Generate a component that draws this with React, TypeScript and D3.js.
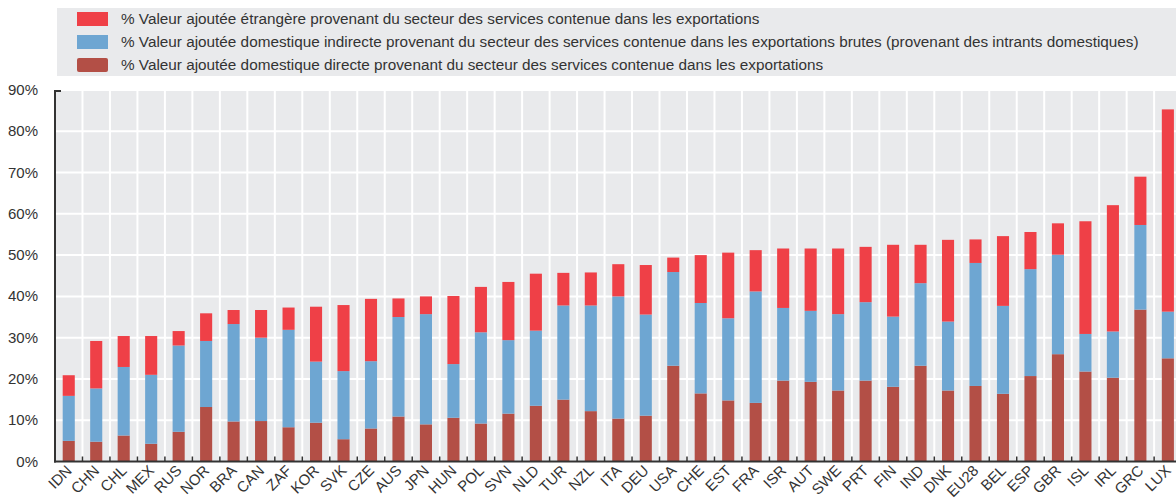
import { useEffect, useRef } from 'react';
import * as d3 from 'd3';

const countries = ['IDN', 'CHN', 'CHL', 'MEX', 'RUS', 'NOR', 'BRA', 'CAN', 'ZAF', 'KOR', 'SVK', 'CZE', 'AUS', 'JPN', 'HUN', 'POL', 'SVN', 'NLD', 'TUR', 'NZL', 'ITA', 'DEU', 'USA', 'CHE', 'EST', 'FRA', 'ISR', 'AUT', 'SWE', 'PRT', 'FIN', 'IND', 'DNK', 'EU28', 'BEL', 'ESP', 'GBR', 'ISL', 'IRL', 'GRC', 'LUX'];

// cumulative tops
const directTop = [5.0, 4.8, 6.3, 4.3, 7.2, 13.2, 9.7, 9.8, 8.3, 9.4, 5.4, 8.0, 10.9, 9.0, 10.6, 9.2, 11.6, 13.5, 15.0, 12.2, 10.4, 11.1, 23.2, 16.5, 14.8, 14.2, 19.6, 19.3, 17.2, 19.6, 18.1, 23.2, 17.2, 18.3, 16.4, 20.7, 26.0, 21.8, 20.3, 36.8, 25.0];
const indirectTop = [15.9, 17.7, 22.9, 21.0, 28.1, 29.2, 33.3, 30.0, 31.9, 24.2, 21.9, 24.3, 35.0, 35.7, 23.6, 31.3, 29.4, 31.7, 37.8, 37.8, 40.0, 35.6, 45.9, 38.4, 34.7, 41.2, 37.2, 36.5, 35.7, 38.6, 35.1, 43.2, 33.9, 48.1, 37.7, 46.6, 50.1, 30.9, 31.5, 57.3, 36.3];
const totalTop = [20.9, 29.2, 30.4, 30.4, 31.6, 35.9, 36.7, 36.7, 37.3, 37.5, 37.9, 39.4, 39.5, 40.0, 40.1, 42.3, 43.5, 45.5, 45.7, 45.8, 47.8, 47.6, 49.4, 50.0, 50.6, 51.2, 51.6, 51.6, 51.6, 52.0, 52.5, 52.5, 53.7, 53.8, 54.6, 55.6, 57.7, 58.2, 62.1, 69.0, 85.3];

const yTicks = [0, 10, 20, 30, 40, 50, 60, 70, 80, 90];

const legendLabels = [
    '% Valeur ajoutée étrangère provenant du secteur des services contenue dans les exportations',
    '% Valeur ajoutée domestique indirecte provenant du secteur des services contenue dans les exportations brutes (provenant des intrants domestiques)',
    '% Valeur ajoutée domestique directe provenant du secteur des services contenue dans les exportations',
];
const colors = ['#ef4047', '#6ea6d2', '#b34f46'];

export default function App() {
    const svgRef = useRef<SVGSVGElement>(null);

    useEffect(() => {
        if (!svgRef.current) return;
        const W = 1176;
        const left = 55, bandRight = 1181.6, top = 90, bottom = 461.5;

        const svg = d3.select(svgRef.current);
        svg.selectAll('*').remove();

        const font = '"Liberation Sans", Arial, sans-serif';
        const data = countries.map((c, i) => ({
            c,
            direct: directTop[i],
            indirect: indirectTop[i] - directTop[i],
            foreign: totalTop[i] - indirectTop[i],
        }));

        const x = d3.scaleBand().domain(countries).range([left, bandRight]).paddingInner(0.56).paddingOuter(0.28);
        const y = d3.scaleLinear().domain([0, 90]).range([bottom, top]);

        // Legend
        const leg = svg.append('g');
        leg.append('rect').attr('x', 57).attr('y', 8).attr('width', W - 57).attr('height', 68).attr('fill', '#e9eaec');
        legendLabels.forEach((lbl, i) => {
            const cy = 19 + i * 23;
            leg.append('rect').attr('x', 77).attr('y', cy - 7).attr('width', 31).attr('height', 14)
                .attr('rx', i === 2 ? 2 : 0).attr('fill', colors[i]);
            leg.append('text').attr('x', 121).attr('y', cy + 5).attr('font-family', font)
                .attr('font-size', 15.3).attr('fill', '#333').text(lbl);
        });

        // Plot background
        svg.append('rect').attr('x', left).attr('y', top).attr('width', W - left).attr('height', bottom - top).attr('fill', '#e9eaec');

        // Gridlines
        for (const t of yTicks) {
            svg.append('line').attr('x1', left).attr('x2', W).attr('y1', y(t)).attr('y2', y(t))
                .attr('stroke', '#fff').attr('stroke-width', 2);
        }
        const step = x.step();
        const x0 = x.range()[0];
        for (let i = 1; i <= countries.length; i++) {
            const gx = x0 + i * step;
            svg.append('line').attr('x1', gx).attr('x2', gx).attr('y1', top).attr('y2', bottom)
                .attr('stroke', '#fff').attr('stroke-width', 2);
        }

        // Stacked bars
        const stack = d3.stack<any>().keys(['direct', 'indirect', 'foreign']);
        const series = stack(data);
        const segColors = [colors[2], colors[1], colors[0]];
        series.forEach((s, si) => {
            svg.append('g').selectAll('rect').data(s).join('rect')
                .attr('x', d => x(d.data.c)!)
                .attr('y', d => y(d[1]))
                .attr('width', x.bandwidth())
                .attr('height', d => y(d[0]) - y(d[1]))
                .attr('fill', segColors[si]);
        });

        // Axes
        svg.append('line').attr('x1', left).attr('x2', left).attr('y1', top).attr('y2', bottom + 1)
            .attr('stroke', '#333').attr('stroke-width', 2);
        svg.append('line').attr('x1', left - 1).attr('x2', W).attr('y1', bottom).attr('y2', bottom)
            .attr('stroke', '#333').attr('stroke-width', 2);
        svg.append('line').attr('x1', left).attr('x2', left + 6).attr('y1', top + 1).attr('y2', top + 1)
            .attr('stroke', '#333').attr('stroke-width', 2);
        for (let i = 1; i <= countries.length; i++) {
            const gx = x0 + i * step;
            svg.append('line').attr('x1', gx).attr('x2', gx).attr('y1', bottom - 5).attr('y2', bottom)
                .attr('stroke', '#333').attr('stroke-width', 1.5);
        }

        // Y labels
        svg.append('g').selectAll('text').data(yTicks).join('text')
            .attr('x', 38).attr('y', d => y(d) + 5)
            .attr('text-anchor', 'end').attr('font-family', font).attr('font-size', 15).attr('fill', '#333')
            .text(d => `${d}%`);

        // X labels
        svg.append('g').selectAll('text').data(countries).join('text')
            .attr('transform', d => `translate(${x(d)! + x.bandwidth() / 2 + 4},${bottom + 10}) rotate(-45)`)
            .attr('text-anchor', 'end').attr('font-family', font).attr('font-size', 15).attr('fill', '#333')
            .text(d => d);
    }, []);

    return <svg ref={svgRef} width={1176} height={499} style={{ position: 'absolute', left: 0, top: 0 }} />;
}
